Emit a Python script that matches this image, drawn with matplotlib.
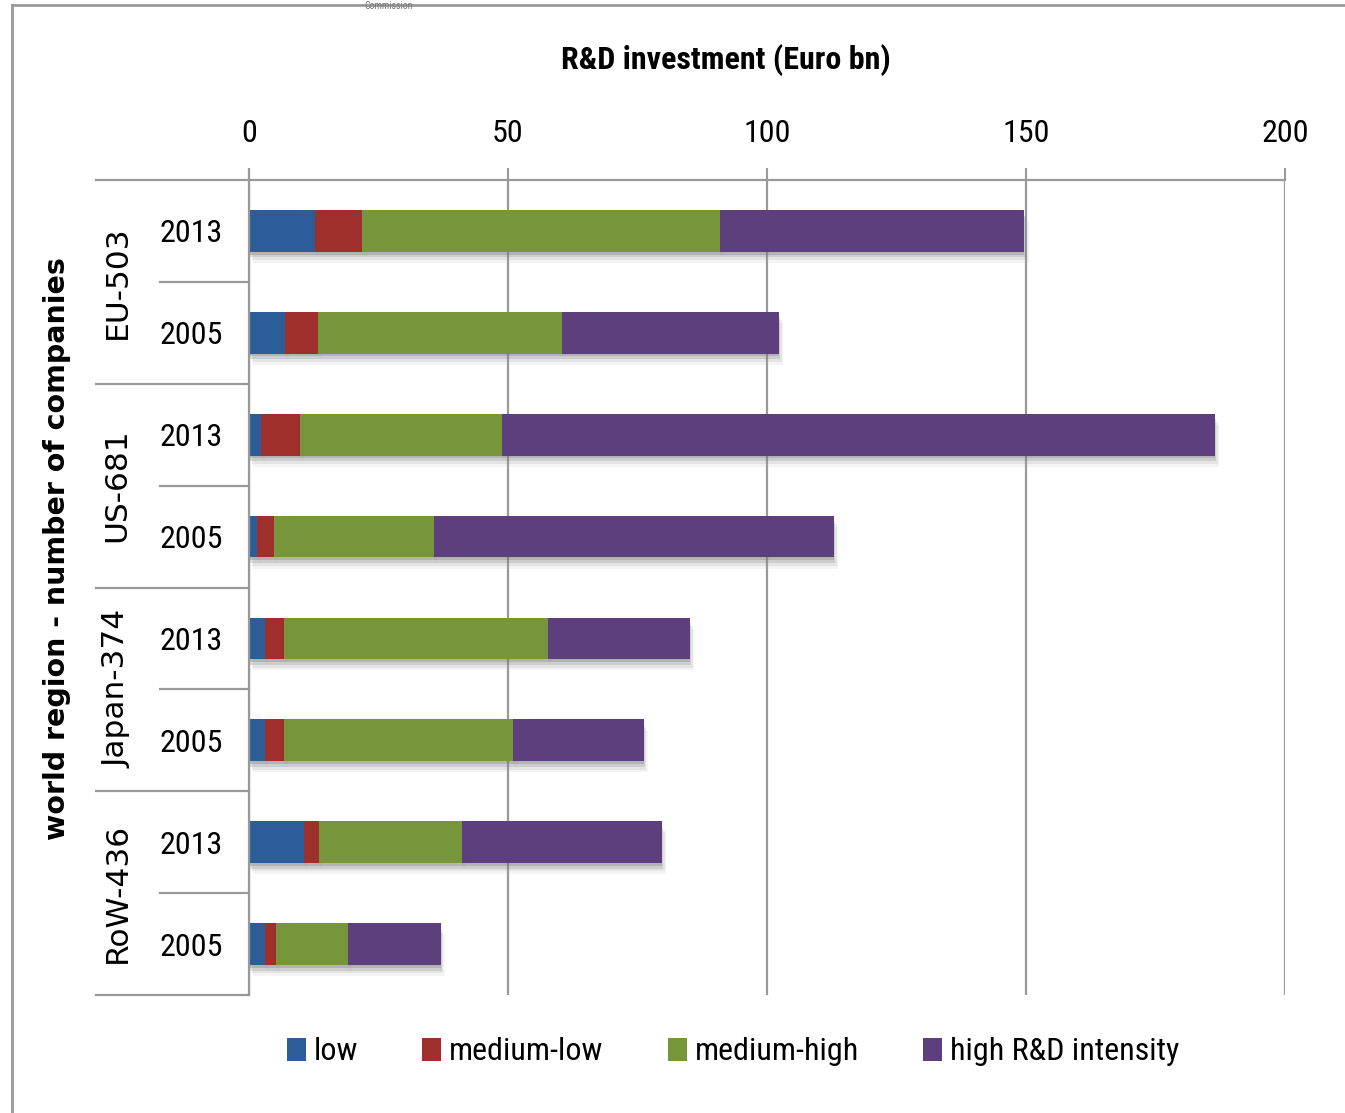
import matplotlib
matplotlib.use("Agg")
import matplotlib.pyplot as plt
import matplotlib.patheffects as pe
from matplotlib.lines import Line2D
from matplotlib.patches import Patch
from matplotlib import font_manager as fm
import numpy as np

# ---------------- data ----------------
regions = ["EU-503", "US-681", "Japan-374", "RoW-436"]
years = ["2013", "2005"]
series = ["low", "medium-low", "medium-high", "high R&D intensity"]
colors = ["#2C5D99", "#9E2F2D", "#77953A", "#5D3F7D"]

# rows: EU 2013, EU 2005, US 2013, US 2005, JP 2013, JP 2005, RoW 2013, RoW 2005
low         = [12.7, 6.9, 2.3, 1.5, 3.1, 3.1, 10.6, 3.1]
medium_low  = [9.2, 6.4, 7.5, 3.3, 3.6, 3.6, 2.9, 2.1]
medium_high = [69.0, 47.1, 39.0, 30.9, 51.0, 44.2, 27.6, 13.9]
high        = [58.8, 41.9, 137.7, 77.2, 27.4, 25.3, 38.6, 17.9]
xticks = [0, 50, 100, 150, 200]

GREY = "#999999"


def pick_narrow(bold):
    """Find an installed condensed sans font (Calibri-like look)."""
    want_w = lambda w: (w >= 600) if bold else (w < 600)
    def wnum(f):
        w = f.weight
        if isinstance(w, str):
            w = {"normal": 400, "regular": 400, "bold": 700, "medium": 500,
                 "light": 300, "semibold": 600, "black": 900}.get(w, 400)
        return w
    prefs = ["Liberation Sans Narrow", "Roboto Condensed", "Open Sans Condensed",
             "Noto Sans Condensed", "DejaVu Sans Condensed"]
    fl = fm.fontManager.ttflist
    for p in prefs:
        for f in fl:
            if f.name == p and want_w(wnum(f)) and f.style == "normal":
                return fm.FontProperties(fname=f.fname)
    for f in fl:
        if f.name in ("Noto Sans", "Open Sans", "Roboto", "DejaVu Sans", "Liberation Sans") \
                and str(f.stretch) in ("condensed", "semi-condensed", "extra-condensed", "75", "87.5") \
                and want_w(wnum(f)) and f.style == "normal":
            return fm.FontProperties(fname=f.fname)
    for f in fl:
        if ("Condensed" in f.fname or "Narrow" in f.fname) and want_w(wnum(f)) \
                and f.style == "normal" and "Mono" not in f.fname and "Serif" not in f.fname:
            return fm.FontProperties(fname=f.fname)
    return fm.FontProperties(family="DejaVu Sans", stretch="condensed",
                             weight="bold" if bold else "normal")


def fp(base, size):
    p = base.copy()
    p.set_size(size)
    return p

NAR = pick_narrow(False)
NARB = pick_narrow(True)
WIDE = ["DejaVu Sans"]

W, H = 1345, 1113
fig = plt.figure(figsize=(W / 100, H / 100), dpi=100)
fig.patch.set_facecolor("white")

def fx(px):
    return px / W

def fy(py):
    return 1 - py / H

ax = fig.add_axes([fx(249), fy(995), fx(1285) - fx(249), fy(180) - fy(995)])

rows = np.arange(len(low))
left = np.zeros(len(low))
shadow = [pe.SimplePatchShadow(offset=(0, -2), shadow_rgbFace="#555555", alpha=0.25),
          pe.SimplePatchShadow(offset=(1, -4), shadow_rgbFace="#666666", alpha=0.2),
          pe.SimplePatchShadow(offset=(2, -6), shadow_rgbFace="#888888", alpha=0.15),
          pe.SimplePatchShadow(offset=(3, -8), shadow_rgbFace="#aaaaaa", alpha=0.12),
          pe.Normal()]
for vals, col, name in zip([low, medium_low, medium_high, high], colors, series):
    bars = ax.barh(rows, vals, left=left, height=0.41, color=col, label=name, zorder=3)
    for b in bars:
        b.set_path_effects(shadow)
    left = left + np.array(vals)

ax.set_xlim(0, 200)
ax.set_ylim(len(low) - 0.5, -0.5)
ax.xaxis.tick_top()
ax.set_xticks(xticks)
ax.set_xticklabels([str(t) for t in xticks])
for lab in ax.get_xticklabels():
    lab.set_fontproperties(fp(NAR, 23))
ax.tick_params(axis="x", which="both", length=9, width=1.5, color=GREY, pad=14)
ax.grid(axis="x", color=GREY, linewidth=1.6, zorder=0)
ax.set_yticks(rows)
ax.set_yticklabels(years * len(regions))
for lab in ax.get_yticklabels():
    lab.set_fontproperties(fp(NAR, 23))
ax.tick_params(axis="y", length=0, pad=19)
for s in ["right", "bottom", "left"]:
    ax.spines[s].set_visible(False)
ax.spines["top"].set_color(GREY)
ax.spines["top"].set_linewidth(1.6)

# left category separators
for i in range(len(rows) + 1):
    ypx = 180 + i * (995 - 180) / len(rows)
    x0 = 96 if i % 2 == 0 else 160
    fig.add_artist(Line2D([fx(x0), fx(249)], [fy(ypx), fy(ypx)], color=GREY, lw=1.6))
fig.add_artist(Line2D([fx(249), fx(249)], [fy(170), fy(995)], color=GREY, lw=1.6))

# region labels
for g, reg in enumerate(regions):
    yc = 180 + (2 * g + 1) * (995 - 180) / len(rows)
    fig.text(fx(117), fy(yc), reg, rotation=90, ha="center", va="center",
             fontsize=22.5, family=WIDE)

# axis titles
fig.text(fx(57), fy(549), "world region - number of companies", rotation=90,
         ha="center", va="center", fontsize=20.5, fontweight="bold", family=WIDE)
fig.text(fx(726), fy(60), "R&D investment (Euro bn)", ha="center", va="center",
         fontproperties=fp(NARB, 23))

# frame + header remnant
fig.add_artist(Line2D([fx(12), fx(12)], [fy(5), 0], color=GREY, lw=2))
fig.add_artist(Line2D([fx(12), 1], [fy(5), fy(5)], color=GREY, lw=2))
fig.text(fx(389), 0.999, "Commission", ha="center", va="top",
         fontproperties=fp(NAR, 7), color="#777777")

handles = [Patch(facecolor=c, edgecolor="none") for c in colors]
fig.legend(handles, series, loc="center", bbox_to_anchor=(fx(733), fy(1052)),
           ncol=4, frameon=False, prop=fp(NAR, 23),
           handlelength=0.6, handleheight=0.75, handletextpad=0.25,
           columnspacing=2.0, borderaxespad=0)

fig.savefig("out.png", dpi=100, facecolor="white")
